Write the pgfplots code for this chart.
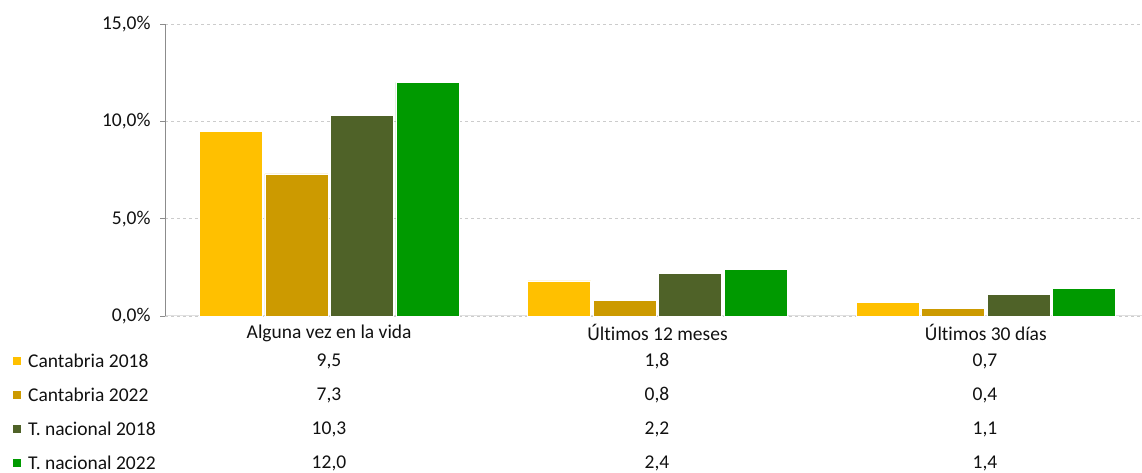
\documentclass[border=0pt]{standalone}
\usepackage{pgfplots}
\pgfplotsset{compat=1.18}
\usepackage{fontspec}
\setmainfont[Ligatures={NoCommon}]{Carlito}
\definecolor{cy}{HTML}{FFC000}
\definecolor{cg}{HTML}{CC9A00}
\definecolor{co}{HTML}{4F6228}
\definecolor{cn}{HTML}{009A00}
\definecolor{txt}{HTML}{111111}
\newcommand{\tf}{\fontsize{19.5}{23}\selectfont\color{txt}}
\begin{document}
\begin{tikzpicture}[x=1pt,y=1pt,font=\tf]
\path[use as bounding box] (0,0) rectangle (1142,473);
\begin{axis}[
  at={(165pt,157pt)}, anchor=south west,
  scale only axis, width=977pt, height=292pt,
  xmin=-0.5, xmax=2.4756, ymin=0, ymax=15,
  ybar=2.5pt, bar width=63pt,
  axis x line=bottom, axis y line=left,
  x axis line style={draw=black!12, -, line width=1pt},
  y axis line style={draw=black!45, -, line width=0.8pt},
  xtick={0,1,2},
  xticklabels={Alguna vez en la vida,Últimos 12 meses,Últimos 30 días},
  xtick style={draw=none},
  xticklabel style={font=\tf, yshift=0pt},
  ytick={0,5,10,15},
  yticklabels={{0,0\%},{5,0\%},{10,0\%},{15,0\%}},
  yticklabel style={font=\tf, xshift=-6pt},
  ytick pos=left, tick align=outside, major tick length=5pt,
  ytick style={draw=black!45, line width=0.8pt},
  ymajorgrids, grid style={draw=black!20, dashed, line width=0.7pt},
  clip=false,
]
\addplot[fill=cy, draw=white, line width=0.6pt] coordinates {(0,9.5) (1,1.8) (2,0.7)};
\addplot[fill=cg, draw=white, line width=0.6pt] coordinates {(0,7.3) (1,0.8) (2,0.4)};
\addplot[fill=co, draw=white, line width=0.6pt] coordinates {(0,10.3) (1,2.2) (2,1.1)};
\addplot[fill=cn, draw=white, line width=0.6pt] coordinates {(0,12.0) (1,2.4) (2,1.4)};
\end{axis}
% data table
\foreach \y/\c/\lab/\a/\b/\d in {112/cy/{Cantabria 2018}/{9,5}/{1,8}/{0,7}, 78/cg/{Cantabria 2022}/{7,3}/{0,8}/{0,4}, 44/co/{T. nacional 2018}/{10,3}/{2,2}/{1,1}, 10/cn/{T. nacional 2022}/{12,0}/{2,4}/{1,4}}{
  \fill[\c] (13,\y-4) rectangle (21,\y+4);
  \node[anchor=west, inner sep=0pt] at (28,\y) {\lab};
  \node[inner sep=0pt] at (329,\y) {\a};
  \node[inner sep=0pt] at (657,\y) {\b};
  \node[inner sep=0pt] at (985,\y) {\d};
}
\end{tikzpicture}
\end{document}
